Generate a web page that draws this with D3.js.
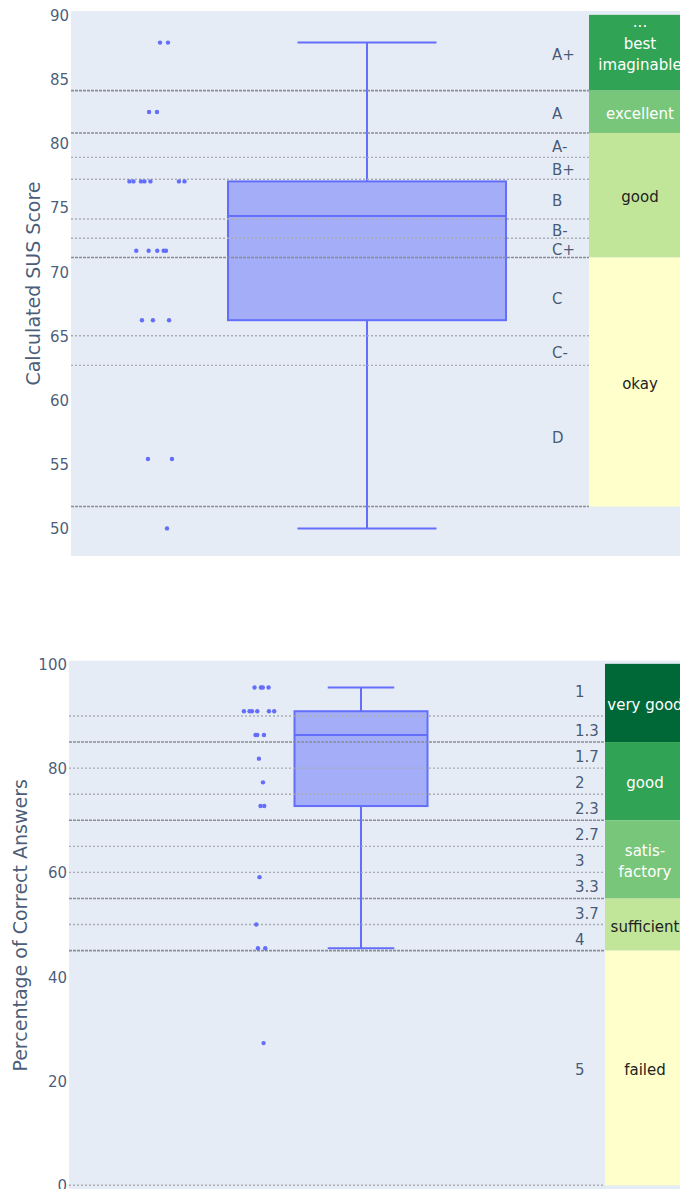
<!DOCTYPE html>
<html>
<head>
<meta charset="utf-8">
<script src="https://cdn.jsdelivr.net/npm/d3@7"></script>
<style>
  body { margin: 0; background: #fff; }
  svg { display: block; }
  text { font-family: "DejaVu Sans", Verdana, sans-serif; }
</style>
</head>
<body>
<svg id="chart" width="680" height="1189"></svg>
<script>
// ---------- SUS questionnaire ----------
const susScores = [
  87.838, 87.838,
  82.432, 82.432,
  77.027, 77.027, 77.027, 77.027, 77.027, 77.027, 77.027,
  71.622, 71.622, 71.622, 71.622, 71.622,
  66.216, 66.216, 66.216,
  55.405, 55.405,
  50.0
];
// horizontal spread of each sample point, in box half-widths
const susJitter = [
  0.011, 0.068,
  -0.068, -0.011,
  -0.209, -0.180, -0.126, -0.101, -0.058, 0.147, 0.187,
  -0.160, -0.071, -0.009, 0.037, 0.054,
  -0.119, -0.040, 0.076,
  -0.076, 0.097,
  0.061
];
const susTicks = [50, 55, 60, 65, 70, 75, 80, 85, 90];
const susGrades = ["A+", "A", "A-", "B+", "B", "B-", "C+", "C", "C-", "D"];
const susGradeBounds = [90, 84.1, 80.8, 78.9, 77.2, 74.1, 72.6, 71.1, 65.0, 62.7, 51.7];
const susMajorLines = [84.1, 80.8, 71.1, 51.7];
const susMinorLines = [78.9, 77.2, 74.1, 72.6, 65.0, 62.7];
const susBandLabels = [["...", "best", "imaginable", ""], ["excellent"], ["good"], ["okay"]];
const susBandBounds = [90, 84.1, 80.8, 71.1, 51.7];
const susBandColors = ["#31a354", "#78c679", "#c2e699", "#ffffcc"];
const susBandText = ["#ffffff", "#ffffff", "#222222", "#222222"];

// ---------- Knowledge quiz ----------
const quizScores = [
  95.455, 95.455, 95.455, 95.455,
  90.909, 90.909, 90.909, 90.909, 90.909, 90.909,
  86.364, 86.364, 86.364,
  81.818,
  77.273,
  72.727, 72.727,
  59.091,
  50.0,
  45.455, 45.455,
  27.273
];
const quizJitter = [
  -0.101, -0.005, 0.023, 0.110,
  -0.260, -0.176, -0.140, -0.060, 0.116, 0.195,
  -0.086, -0.060, 0.041,
  -0.035,
  0.026,
  -0.011, 0.045,
  -0.026,
  -0.075,
  -0.050, 0.060,
  0.035
];
const quizTicks = [0, 20, 40, 60, 80, 100];
const quizGrades = ["1", "1.3", "1.7", "2", "2.3", "2.7", "3", "3.3", "3.7", "4", "5"];
const quizGradeBounds = [100, 90, 85, 80, 75, 70, 65, 60, 55, 50, 45, 0];
const quizMajorLines = [85, 70, 55, 45];
const quizMinorLines = [90, 80, 75, 65, 60, 50, 0];
const quizBandLabels = [["very good"], ["good"], ["satis-", "factory"], ["sufficient"], ["failed"]];
const quizBandBounds = [100, 85, 70, 55, 45, 0];
const quizBandColors = ["#006837", "#31a354", "#78c679", "#c2e699", "#ffffcc"];
const quizBandText = ["#ffffff", "#ffffff", "#ffffff", "#222222", "#222222"];

const TRACE = "#636efa";
const INK = "#2a3f5f";

const svg = d3.select("#chart");

// Quartiles as Plotly's "linear" method (n*p + 0.5, 1-based)
function quartile(sorted, p) {
  const n = sorted.length;
  const h = n * p + 0.5;
  if (h <= 1) return sorted[0];
  if (h >= n) return sorted[n - 1];
  const lo = Math.floor(h);
  return sorted[lo - 1] + (h - lo) * (sorted[lo] - sorted[lo - 1]);
}

function boxStats(values) {
  const s = values.slice().sort((a, b) => a - b);
  const q1 = quartile(s, 0.25), q3 = quartile(s, 0.75);
  const med = d3.median(s);
  const iqr = q3 - q1;
  const lowFence = q1 - 1.5 * iqr, highFence = q3 + 1.5 * iqr;
  const lo = d3.min(s.filter(v => v >= lowFence));
  const hi = d3.max(s.filter(v => v <= highFence));
  return { q1, q3, med, lo, hi };
}

function drawPanel(cfg) {
  const g = svg.append("g");
  const { left, right, top, bottom } = cfg.area;
  const y = d3.scaleLinear().domain(cfg.yDomain).range([bottom, top]);
  // x in box half-width units, centred on the box
  const x = d3.scaleLinear().domain([-1, 1]).range([cfg.boxCenter - cfg.boxHalf, cfg.boxCenter + cfg.boxHalf]);

  const clipId = "clip-" + cfg.id;
  g.append("clipPath").attr("id", clipId)
    .append("rect").attr("x", left).attr("y", top).attr("width", right - left).attr("height", bottom - top);

  g.append("rect").attr("x", left).attr("y", top)
    .attr("width", right - left).attr("height", bottom - top).attr("fill", "#e5ecf6");

  const plot = g.append("g").attr("clip-path", `url(#${clipId})`);

  // box, median and whiskers
  const st = boxStats(cfg.values);
  plot.append("rect")
    .attr("x", x(-1)).attr("width", x(1) - x(-1))
    .attr("y", y(st.q3)).attr("height", y(st.q1) - y(st.q3))
    .attr("fill", TRACE).attr("fill-opacity", 0.5)
    .attr("stroke", TRACE).attr("stroke-width", 2);
  const segs = [
    [x(-1), y(st.med), x(1), y(st.med)],
    [x(0), y(st.q3), x(0), y(st.hi)],
    [x(0), y(st.q1), x(0), y(st.lo)],
    [x(-0.5), y(st.hi), x(0.5), y(st.hi)],
    [x(-0.5), y(st.lo), x(0.5), y(st.lo)]
  ];
  plot.selectAll(null).data(segs).join("line")
    .attr("x1", d => d[0]).attr("y1", d => d[1]).attr("x2", d => d[2]).attr("y2", d => d[3])
    .attr("stroke", TRACE).attr("stroke-width", 2);

  // grade boundary lines
  plot.selectAll(null).data(cfg.minor).join("line")
    .attr("x1", left).attr("x2", cfg.bandX)
    .attr("y1", d => y(d)).attr("y2", d => y(d))
    .attr("stroke", "#a9acb3").attr("stroke-width", 1.4).attr("stroke-dasharray", "2,2");
  plot.selectAll(null).data(cfg.major).join("line")
    .attr("x1", left).attr("x2", cfg.bandX)
    .attr("y1", d => y(d)).attr("y2", d => y(d))
    .attr("stroke", "#8a8d94").attr("stroke-width", 1.6).attr("stroke-dasharray", "3,1");

  // adjective bands
  const bands = cfg.bandLabels.map((lab, i) => ({
    lab, hi: cfg.bandBounds[i], lo: cfg.bandBounds[i + 1],
    color: cfg.bandColors[i], text: cfg.bandText[i]
  }));
  plot.selectAll(null).data(bands).join("rect")
    .attr("x", cfg.bandX).attr("width", right - cfg.bandX)
    .attr("y", d => y(d.hi)).attr("height", d => y(d.lo) - y(d.hi))
    .attr("fill", d => d.color);
  const lineH = 21.5;
  bands.forEach(b => {
    const cy = (y(b.hi) + y(b.lo)) / 2;
    const n = b.lab.length;
    const t = plot.append("text")
      .attr("text-anchor", "middle").attr("font-size", 15).attr("fill", b.text);
    b.lab.forEach((line, i) => {
      t.append("tspan").attr("x", cfg.bandTextX)
        .attr("y", cy + 7 + (i - (n - 1) / 2) * lineH)
        .text(line);
    });
  });

  // grade labels, centred between boundaries
  const grades = cfg.grades.map((gname, i) => ({
    gname, mid: (cfg.gradeBounds[i] + cfg.gradeBounds[i + 1]) / 2
  }));
  plot.selectAll(null).data(grades).join("text")
    .attr("x", cfg.gradeX).attr("y", d => y(d.mid) + 7)
    .attr("font-size", 15).attr("fill", INK).attr("fill-opacity", 0.85)
    .text(d => d.gname);

  // sample points
  const pts = cfg.values.map((v, i) => ({ v, j: cfg.jitter[i] }));
  plot.selectAll(null).data(pts).join("circle")
    .attr("cx", d => x(cfg.pointPos + d.j)).attr("cy", d => y(d.v))
    .attr("r", 2.2).attr("fill", TRACE);

  // y axis
  const axis = g.append("g").attr("transform", `translate(${left - 2},0)`)
    .call(d3.axisLeft(y).tickValues(cfg.ticks).tickSize(0).tickPadding(0));
  axis.select(".domain").remove();
  axis.selectAll("text")
    .attr("font-size", 15).attr("fill", INK).attr("fill-opacity", 0.85)
    .attr("font-family", '"DejaVu Sans", Verdana, sans-serif')
    .attr("dy", "0.36em");

  g.append("text")
    .attr("transform", `translate(${cfg.titleX},${(top + bottom) / 2}) rotate(-90)`)
    .attr("text-anchor", "middle").attr("font-size", 19).attr("fill", INK).attr("fill-opacity", 0.85)
    .text(cfg.title);
}

drawPanel({
  id: "sus",
  area: { left: 71, right: 691, top: 11, bottom: 556 },
  yDomain: [47.85, 90.3],
  boxCenter: 367, boxHalf: 139, pointPos: -1.5,
  values: susScores, jitter: susJitter, ticks: susTicks,
  grades: susGrades, gradeBounds: susGradeBounds, gradeX: 552,
  major: susMajorLines, minor: susMinorLines,
  bandLabels: susBandLabels, bandBounds: susBandBounds,
  bandColors: susBandColors, bandText: susBandText,
  bandX: 589, bandTextX: 640,
  title: "Calculated SUS Score", titleX: 39.5
});

drawPanel({
  id: "quiz",
  area: { left: 69, right: 685, top: 660.7, bottom: 1190 },
  yDomain: [-0.9, 100.6],
  boxCenter: 361, boxHalf: 66.5, pointPos: -1.5,
  values: quizScores, jitter: quizJitter, ticks: quizTicks,
  grades: quizGrades, gradeBounds: quizGradeBounds, gradeX: 575,
  major: quizMajorLines, minor: quizMinorLines,
  bandLabels: quizBandLabels, bandBounds: quizBandBounds,
  bandColors: quizBandColors, bandText: quizBandText,
  bandX: 605, bandTextX: 645,
  title: "Percentage of Correct Answers", titleX: 26.5
});
</script>
</body>
</html>
